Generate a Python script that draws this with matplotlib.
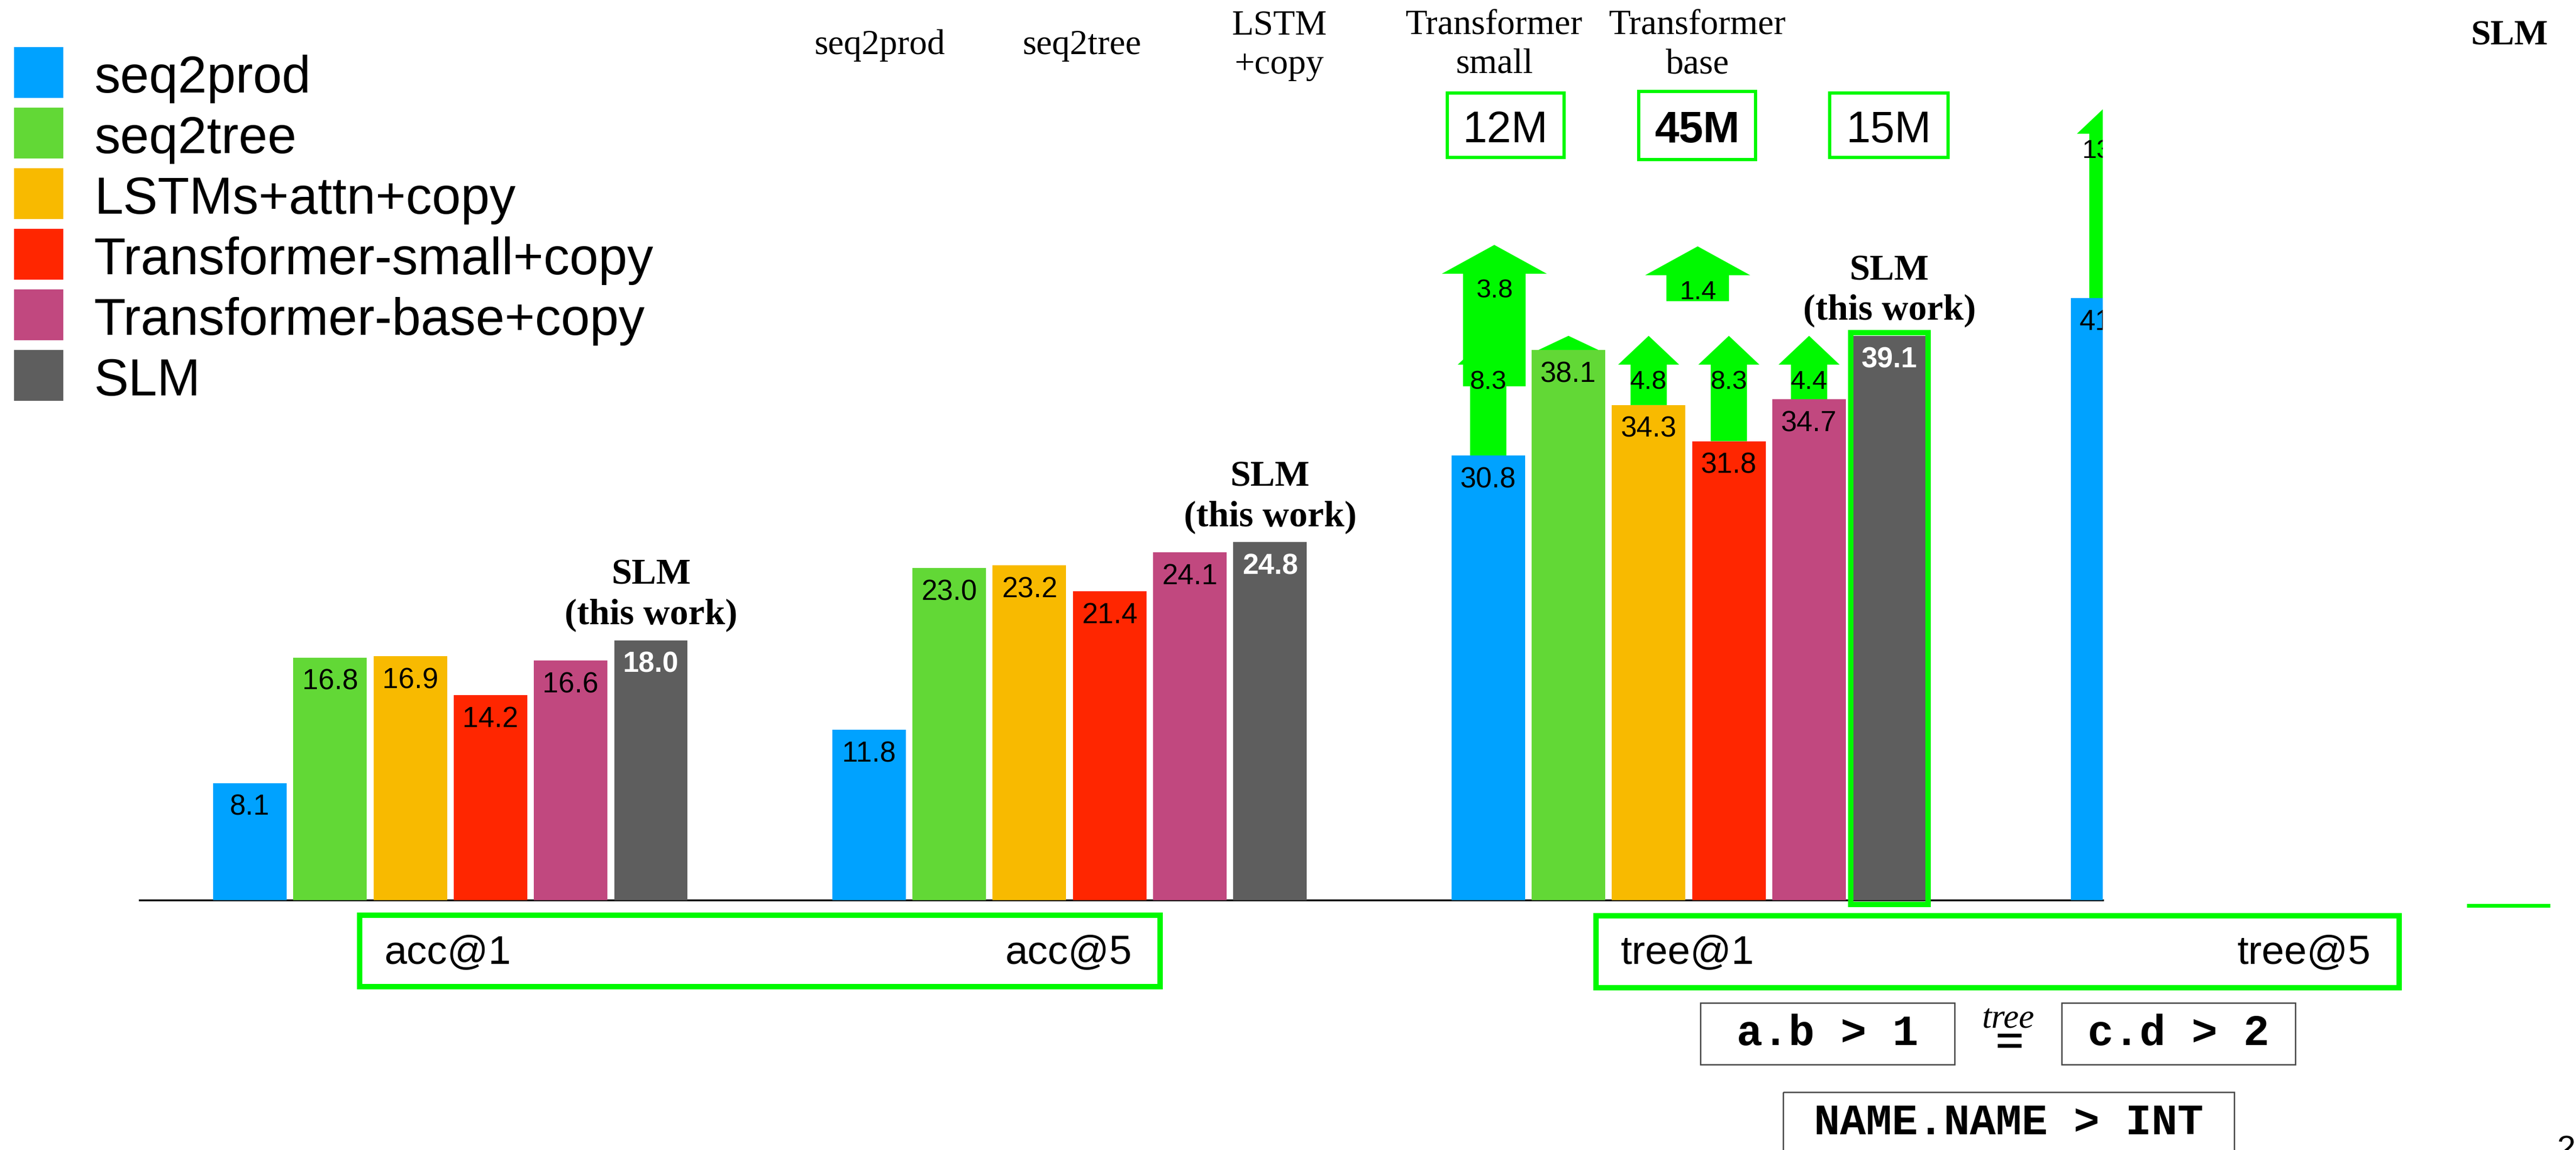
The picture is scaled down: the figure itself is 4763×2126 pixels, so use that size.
import numpy as np
import matplotlib
matplotlib.use('Agg')
from matplotlib import pyplot as plt
from matplotlib.patches import Rectangle, FancyArrow

W, H, DPI = 4763, 2126, 100

models = ['seq2prod', 'seq2tree', 'LSTMs+attn+copy', 'Transformer-small+copy',
          'Transformer-base+copy', 'SLM']
colors = ['#00A2FF', '#62D836', '#F8BA00', '#FF2600', '#C1487F', '#5E5E5E']
green = '#00F900'

# scores per metric group (tree@5 only has its first bar in view)
acc1 = [8.1, 16.8, 16.9, 14.2, 16.6, 18.0]
acc5 = [11.8, 23.0, 23.2, 21.4, 24.1, 24.8]
tree1 = [30.8, 38.1, 34.3, 31.8, 34.7, 39.1]
tree5 = [41.7]

# improvement arrows: start value, end value, printed gain
tree1_gain_labels = ['8.3', '', '4.8', '8.3', '4.4']
tree5_gain_start = [41.7]
tree5_gain_end = [55.1]
tree5_gain_labels = ['13.4']

# model-size arrows drawn under the transformer headers
size_arrow_lo = [35.6, 41.5]
size_arrow_hi = [45.4, 45.3]
size_arrow_labels = ['3.8', '1.4']

metric_boxes = [('acc@1', 'acc@5'), ('tree@1', 'tree@5')]
header_single = ['seq2prod', 'seq2tree']
header_double = [('LSTM', '+copy'), ('Transformer', 'small'), ('Transformer', 'base')]
param_labels = ['12M', '45M', '15M']

SANS, SERIF, MONO = 'Liberation Sans', 'Liberation Serif', 'Liberation Mono'


def pt(px):
    return px * 72.0 / DPI


# pixel geometry of the bar area
PX_UNIT = 26.68        # pixels per score point
BAR_PITCH = 148.3      # pixels between bar centres
X0_PX = 462            # centre of the first bar
GROUP_GAP = 7.72       # in bar pitches
BAR_W = 0.917


def px2x(px):
    return (px - X0_PX) / BAR_PITCH


fig = plt.figure(figsize=(W / DPI, H / DPI), dpi=DPI)

ov = fig.add_axes([0, 0, 1, 1])
ov.set_xlim(0, W)
ov.set_ylim(H, 0)
ov.axis('off')

ax = fig.add_axes([258 / W, 1 - 1664 / H, (3888 - 258) / W, 1664 / H])
ax.patch.set_alpha(0)
ax.set_xlim(px2x(258), px2x(3888))
ax.set_ylim(0, 1664 / PX_UNIT)
for s in ['top', 'left', 'right']:
    ax.spines[s].set_visible(False)
ax.spines['bottom'].set_linewidth(2.5)
ax.set_xticks([])
ax.set_yticks([])

groups = [acc1, acc5, tree1, tree5]
for g, vals in enumerate(groups):
    xs = g * GROUP_GAP + np.arange(len(vals))
    ax.bar(xs, vals, width=BAR_W, color=colors[:len(vals)], linewidth=0, zorder=3)
    for j, (x, v) in enumerate(zip(xs, vals)):
        slm = j == len(models) - 1
        ax.text(x, v - 0.75, f'{v:.1f}', ha='center', va='top', fontsize=pt(53),
                family=SANS, color='white' if slm else 'black',
                fontweight='bold' if slm else 'normal', zorder=6, clip_on=True)
    if len(vals) == len(models):
        xs_slm, v = xs[-1], vals[-1]
        ax.text(xs_slm, v + 1.12, '(this work)', ha='center', va='baseline',
                fontsize=pt(68), family=SERIF, fontweight='bold')
        ax.text(xs_slm, v + 1.12 + 2.77, 'SLM', ha='center', va='baseline',
                fontsize=pt(68), family=SERIF, fontweight='bold')


def up_arrow(x, lo, hi, label, shaft, head, head_len=2.0, z=2):
    d = hi - lo
    hl = min(head_len, d)
    ax.add_patch(FancyArrow(x, lo, 0, d, width=shaft, head_width=head,
                            head_length=hl, length_includes_head=True,
                            color=green, lw=0, zorder=z))
    if label:
        ax.text(x, hi - hl - 0.35, label, ha='center', va='top', fontsize=pt(49),
                family=SANS, zorder=7, clip_on=True)


# tree@1 gains up to the SLM score
x_tree1 = 2 * GROUP_GAP + np.arange(len(tree1))
for j, lab in enumerate(tree1_gain_labels):
    up_arrow(x_tree1[j], tree1[j], tree1[-1], lab, 0.452, 0.762)

# tree@5 gain
x_tree5 = 3 * GROUP_GAP + np.arange(len(tree5))
for x, lo, hi, lab in zip(x_tree5, tree5_gain_start, tree5_gain_end, tree5_gain_labels):
    up_arrow(x, lo, hi, lab, 0.452, 0.762)

# outline around the SLM tree@1 bar
c = x_tree1[-1]
ax.add_patch(Rectangle((c - 0.482, -0.3), 0.964, tree1[-1] + 0.5, fill=False,
                       ec=green, lw=pt(10), clip_on=False, zorder=4))

# header text columns (pixel centres)
single_cols = [1626, 2000]
double_cols = [2365, 2763, 3139]
for x, t in zip(single_cols, header_single):
    ov.text(x, 100, t, ha='center', va='baseline', fontsize=pt(66), family=SERIF)
for x, (a, b) in zip(double_cols, header_double):
    ov.text(x, 64, a, ha='center', va='baseline', fontsize=pt(66), family=SERIF)
    ov.text(x, 136, b, ha='center', va='baseline', fontsize=pt(66), family=SERIF)

for x, lo, hi, lab in zip(double_cols[1:], size_arrow_lo, size_arrow_hi, size_arrow_labels):
    up_arrow(px2x(x), lo, hi, lab, 0.78, 1.31, z=5)

# parameter count boxes
param_boxes = [(2676, 2892, 172, 291), (3030, 3246, 169, 295), (3383, 3602, 172, 291)]
for (x0, x1, y0, y1), lab in zip(param_boxes, param_labels):
    ov.add_patch(Rectangle((x0, y0), x1 - x0, y1 - y0, fill=False, ec=green, lw=pt(6)))
    ov.text((x0 + x1) / 2, 263, lab, ha='center', va='baseline', fontsize=pt(81),
            family=SANS, fontweight='bold' if lab == '45M' else 'normal')

ov.text(4640, 82, 'SLM', ha='center', va='baseline', fontsize=pt(66), family=SERIF,
        fontweight='bold')
ov.plot([4561, 4715], [1673.5, 1673.5], color=green, lw=pt(7), solid_capstyle='butt')

# legend
for i, (name, col) in enumerate(zip(models, colors)):
    top = 87 + 112 * i
    ov.add_patch(Rectangle((26, top), 91, 94, color=col, lw=0))
    ov.text(174, top + 84, name, va='baseline', fontsize=pt(96), family=SANS)

# metric name boxes under the axis
metric_box_px = [(665, 2145, 1692, 1824), (2951, 4436, 1693, 1826)]
for (x0, x1, y0, y1), (left, right) in zip(metric_box_px, metric_boxes):
    ov.add_patch(Rectangle((x0, y0), x1 - x0, y1 - y0, fill=False, ec=green, lw=pt(10)))
    ov.text(x0 + 46, 1782, left, ha='left', va='baseline', fontsize=pt(75), family=SANS)
    ov.text(x1 - 52, 1782, right, ha='right', va='baseline', fontsize=pt(75), family=SANS)

# code examples
code_boxes = [(3144, 3614, 1854, 1968, 'a.b > 1'), (3812, 4244, 1854, 1968, 'c.d > 2'),
              (3297, 4131, 2019, 2200, 'NAME.NAME > INT')]
for x0, x1, y0, y1, t in code_boxes:
    ov.add_patch(Rectangle((x0, y0), x1 - x0, y1 - y0, fill=False, ec='#444444',
                           lw=pt(2.5), clip_on=False))
    ov.text((x0 + x1) / 2, y0 + 78, t, ha='center', va='baseline', fontsize=pt(80),
            family=MONO, fontweight='bold')
ov.text(3713, 1900, 'tree', ha='center', va='baseline', fontsize=pt(64), family=SERIF,
        style='italic')
ov.text(3715, 1933, '=', ha='center', va='center', fontsize=pt(95), family=SERIF,
        fontweight='bold')

ov.text(4728, 2098, '2', ha='left', va='top', fontsize=pt(62), family=SANS)

fig.savefig('out.png', dpi=DPI)
